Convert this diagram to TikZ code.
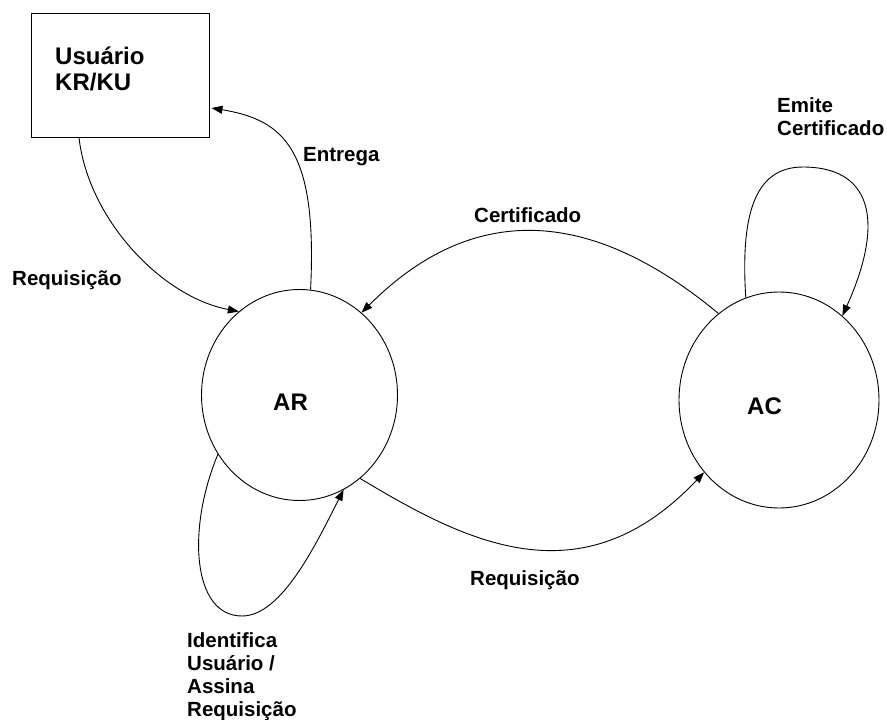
\documentclass[tikz,border=0pt]{standalone}
\usepackage{fontspec}
\setmainfont{Liberation Sans}
\usetikzlibrary{shapes.geometric,arrows.meta}
\begin{document}
\begin{tikzpicture}[x=1pt,y=-1pt,
  link/.style={draw=black, line width=0.9pt, -{Triangle[length=11pt,width=8pt]}},
  plain/.style={draw=black, line width=0.9pt},
  state/.style={draw, ellipse, line width=0.9pt, inner sep=0pt},
  lbl/.style={font=\bfseries\fontsize{20.5}{23}\selectfont, inner sep=0pt, anchor=base west, align=left},
  big/.style={font=\bfseries\fontsize{24}{26}\selectfont, inner sep=0pt, anchor=base west, align=left}]

% canvas
\fill[white] (0,0) rectangle (887,720);
\useasboundingbox (0,0) rectangle (887,720);

% entities (multi-line texts are anchored at the baseline of their last line)
\node[draw, line width=0.9pt, minimum width=178pt, minimum height=124pt, inner sep=0pt] (user) at (120,75) {};
\node[big] (usertext) at (55,90) {Usuário\\KR/KU};

\node[state, minimum width=196pt, minimum height=211pt] (ar) at (299.5,395) {};
\node[big] (artext) at (273,410) {AR};

\node[state, minimum width=200pt, minimum height=216pt] (ac) at (779,400) {};
\node[big] (actext) at (747,414) {AC};

% loop waypoints
\coordinate (arloop) at (242,616);
\coordinate (acloop) at (803,167);

% user <-> AR
\draw[link] ([xshift=-41pt]user.south) .. controls +(9,81) and +(-78,-15) .. (ar.126.9);
\draw[link] (ar.84.8) .. controls +(7,-140) and +(73,12) .. ([xshift=2pt,yshift=-33pt]user.east);

% AR <-> AC
\draw[link] (ac.125.2) .. controls +(-130,-108) and +(110,-110) .. (ar.53.8);
\draw[link] (ar.-54) .. controls +(105,63) and +(-123,130) .. (ac.224.2);

% self loops
\draw[plain] (ar.216.6) .. controls +(-31,74) and +(-50,0) .. (arloop);
\draw[link] (arloop) .. controls +(40,0) and +(-27,53) .. (ar.-65.2);
\draw[plain] (ac.108.6) .. controls +(-5,-80) and +(-50,0) .. (acloop);
\draw[link] (acloop) .. controls +(65,0) and +(45,-100) .. (ac.53.4);

% labels
\node[lbl] (lreq1) at (12,285) {Requisição};
\node[lbl] (lentrega) at (303,161) {Entrega};
\node[lbl] (lcert) at (474,222.7) {Certificado};
\node[lbl] (lreq2) at (470,585) {Requisição};
\node[lbl] (lemite) at (777,135) {Emite\\Certificado};
\node[lbl] (lident) at (187,716) {Identifica\\Usuário /\\Assina\\Requisição};
\end{tikzpicture}
\end{document}
